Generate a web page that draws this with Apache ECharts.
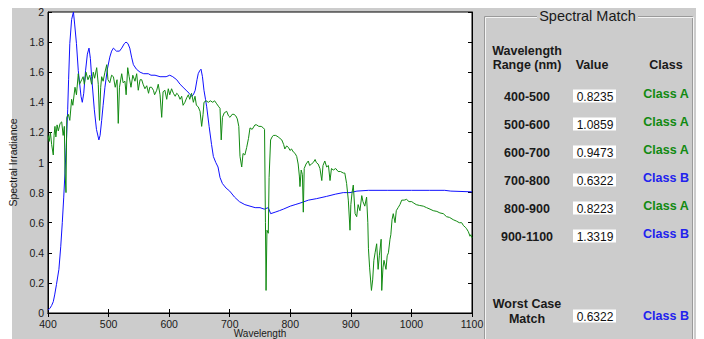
<!DOCTYPE html>
<html>
<head>
<meta charset="utf-8">
<script src="https://cdn.jsdelivr.net/npm/echarts@6/dist/echarts.min.js"></script>
<style>
  html, body { margin: 0; padding: 0; background: #fff; }
  #bg { position: absolute; left: 12px; top: 8px; width: 684px; height: 331px; background: #cccccc; }
  #main { position: absolute; left: 0; top: 0; width: 704px; height: 339px; }
</style>
</head>
<body>
<div id="bg"></div>
<div id="main"></div>
<script>
// lamp spectrum (blue)
const blueWl = [400, 403, 406, 408.7, 411, 414, 418, 421, 423.6, 426, 428, 430, 432.5, 434, 436, 439, 442, 444, 447, 450,
  454.5, 456.6, 459, 462, 465, 467.7, 470, 472, 476.5, 480, 484, 486, 488.6, 491, 494, 498, 502, 505, 508, 513,
  518, 521.7, 526, 528.8, 532, 535, 538, 541, 546, 552, 558, 565.6, 570, 576.7, 585, 595, 601, 606, 612.5, 618,
  623, 628, 633, 637, 640, 643, 646, 648, 650.5, 652.6, 655, 657.5, 660, 662, 666, 670, 673, 677, 680.7, 684,
  688, 694, 700, 708, 716, 725, 733.5, 742, 750, 757, 763.7, 767.6, 775, 782, 788.5, 800, 808, 816, 830, 843.6,
  860, 875, 887.5, 898.6, 910, 929, 960, 1000, 1030, 1055, 1065, 1100]
const blueVal = [0.02, 0.03, 0.05, 0.075, 0.12, 0.19, 0.29, 0.44, 0.6, 0.77, 0.93, 1.1, 1.35, 1.55, 1.79, 1.95, 2.0, 1.92, 1.79, 1.61,
  1.44, 1.4, 1.46, 1.61, 1.72, 1.76, 1.69, 1.57, 1.35, 1.22, 1.15, 1.18, 1.28, 1.38, 1.5, 1.62, 1.7, 1.74, 1.76, 1.74,
  1.74, 1.76, 1.79, 1.8, 1.79, 1.76, 1.7, 1.65, 1.62, 1.6, 1.59, 1.59, 1.58, 1.58, 1.57, 1.57, 1.58, 1.57, 1.55, 1.52,
  1.5, 1.48, 1.46, 1.44, 1.45, 1.48, 1.55, 1.59, 1.61, 1.62, 1.57, 1.48, 1.42, 1.37, 1.24, 1.12, 1.04, 1.0, 0.97, 0.9,
  0.86, 0.83, 0.81, 0.77, 0.74, 0.72, 0.71, 0.7, 0.7, 0.69, 0.7, 0.66, 0.67, 0.68, 0.69, 0.71, 0.72, 0.73, 0.75, 0.76,
  0.775, 0.79, 0.8, 0.8, 0.81, 0.815, 0.815, 0.815, 0.815, 0.815, 0.81, 0.805]

// reference solar spectrum (green)
const greenWl = [400, 402, 404, 406, 408.7, 410, 411.5, 413, 415, 417, 420, 422.6, 425, 427, 428, 429.7, 431, 433.5, 436, 439,
  441, 444.6, 447, 450, 452, 455.6, 458, 460, 462.7, 466, 469, 472, 474.8, 477, 480.4, 483, 485, 487, 488.6, 491,
  494, 497, 499, 502, 505, 508, 511, 514, 516, 518, 521.7, 524, 527, 529, 531.6, 534, 537, 540, 543.6, 546.4,
  549, 552, 554.7, 557, 560, 563, 566, 568, 571, 574, 576, 579.5, 582, 585, 587.7, 590, 593, 596, 598.6, 601,
  604, 607, 610, 612.5, 615, 618, 620.7, 623, 626, 629, 631.7, 634, 637, 640, 642.7, 645, 648, 651, 653.7, 656,
  657.5, 661, 664.7, 668, 672, 675, 678.5, 682, 684, 686, 688, 691, 695, 698, 700.5, 704, 707, 710, 712.5, 715,
  717, 719.8, 722, 725, 728, 731, 733.5, 737, 741.7, 744.5, 748, 752, 755.5, 757.5, 759, 760, 761.5, 763.7, 765, 767.5,
  770, 772, 776, 780, 783, 786, 789, 791, 794, 797, 799.5, 802, 805, 808, 810.6, 813, 815, 816, 818, 820,
  821.5, 823, 826, 829.7, 832, 835, 838, 841, 843, 846, 849, 852, 854, 857, 860, 863, 865.6, 868, 871, 875,
  879, 883, 887.5, 890, 893, 895.8, 898.6, 900, 902, 904, 907, 909.6, 912, 915, 918, 920, 923, 926, 928, 929,
  931, 934, 936, 938, 940, 942.6, 945, 947, 950, 951, 953, 954.7, 958, 960, 962, 964.6, 966, 968, 970, 973,
  975, 978, 981, 984, 988, 992, 996, 1000.5, 1004, 1008, 1013, 1019.6, 1025, 1030.7, 1036, 1042, 1047, 1052.6, 1058, 1063,
  1069, 1074.7, 1079, 1083, 1086, 1089, 1091, 1094, 1096.7, 1098, 1100]
const greenVal = [1.18, 1.14, 1.2, 1.12, 1.05, 1.18, 1.24, 1.17, 1.25, 1.21, 1.26, 1.27, 1.18, 1.24, 0.95, 0.8, 1.3, 1.32, 1.28, 1.42,
  1.38, 1.5, 1.45, 1.59, 1.52, 1.55, 1.57, 1.52, 1.6, 1.55, 1.58, 1.52, 1.6, 1.56, 1.63, 1.52, 1.28, 1.5, 1.57, 1.54,
  1.6, 1.65, 1.55, 1.53, 1.58, 1.57, 1.5, 1.55, 1.26, 1.5, 1.59, 1.53, 1.54, 1.45, 1.63, 1.57, 1.5, 1.58, 1.54, 1.59,
  1.48, 1.55, 1.55, 1.52, 1.49, 1.51, 1.46, 1.5, 1.5, 1.48, 1.45, 1.48, 1.52, 1.45, 1.3, 1.47, 1.48, 1.42, 1.49, 1.45,
  1.49, 1.46, 1.44, 1.46, 1.45, 1.42, 1.44, 1.38, 1.4, 1.43, 1.45, 1.42, 1.46, 1.4, 1.44, 1.38, 1.37, 1.34, 1.24, 1.32,
  1.4, 1.41, 1.4, 1.41, 1.4, 1.41, 1.39, 1.37, 1.36, 1.15, 1.3, 1.33, 1.34, 1.31, 1.3, 1.32, 1.32, 1.31, 1.29, 1.24,
  1.04, 0.97, 1.06, 1.05, 1.1, 1.16, 1.23, 1.22, 1.25, 1.25, 1.24, 1.24, 1.23, 1.22, 0.6, 0.15, 0.55, 0.53, 0.9, 1.15,
  1.17, 1.18, 1.18, 1.17, 1.16, 1.15, 1.12, 1.09, 1.11, 1.1, 1.08, 1.09, 1.07, 1.06, 1.04, 0.99, 0.91, 0.84, 0.95, 0.92,
  0.67, 0.96, 0.99, 1.01, 0.98, 0.99, 1.0, 1.02, 1.0, 0.99, 0.96, 0.88, 0.98, 1.01, 0.97, 0.98, 0.88, 0.96, 0.95, 0.96,
  0.94, 0.94, 0.93, 0.93, 0.86, 0.75, 0.55, 0.72, 0.8, 0.85, 0.66, 0.64, 0.72, 0.68, 0.78, 0.74, 0.71, 0.77, 0.6, 0.43,
  0.3, 0.15, 0.22, 0.35, 0.4, 0.46, 0.29, 0.38, 0.49, 0.15, 0.3, 0.35, 0.29, 0.38, 0.4, 0.49, 0.52, 0.62, 0.66, 0.6,
  0.68, 0.7, 0.72, 0.75, 0.75, 0.755, 0.74, 0.74, 0.73, 0.72, 0.715, 0.71, 0.7, 0.69, 0.68, 0.675, 0.665, 0.66, 0.64, 0.635,
  0.62, 0.61, 0.6, 0.6, 0.58, 0.57, 0.56, 0.54, 0.51, 0.52, 0.5]

// spectral match table
const bandRanges = ['400-500', '500-600', '600-700', '700-800', '800-900', '900-1100']
const matchValues = [0.8235, 1.0859, 0.9473, 0.6322, 0.8223, 1.3319]
const matchClasses = ['Class A', 'Class A', 'Class A', 'Class B', 'Class A', 'Class B']
const worstValue = 0.6322
const worstClass = 'Class B'

const FONT = '"Liberation Sans", Arial, sans-serif'
const classColor = { 'Class A': '#118a11', 'Class B': '#2222ee' }

function zip(xs, ys) {
  return xs.map((x, i) => [x, ys[i]])
}

function label(text, x, y, font, color) {
  return {
    type: 'text',
    x: x,
    y: y,
    z: 10,
    style: {
      text: text,
      font: font,
      fill: color || '#1a1a1a',
      align: 'center',
      verticalAlign: 'middle',
      textAlign: 'center',
      textVerticalAlign: 'middle',
    },
  }
}

function valueBox(v, y) {
  return [
    { type: 'rect', z: 5, shape: { x: 573, y: y - 7, width: 43, height: 13 }, style: { fill: '#fff' } },
    label(v.toFixed(4), 595, y, '12px ' + FONT, '#111'),
  ]
}

// right panel drawn with graphic elements
let panel = [
  // etched group box
  { type: 'rect', z: 1, shape: { x: 484.5, y: 16.5, width: 208, height: 340 }, style: { fill: 'none', stroke: '#9a9a9a', lineWidth: 1 } },
  { type: 'rect', z: 1, shape: { x: 485.5, y: 17.5, width: 208, height: 340 }, style: { fill: 'none', stroke: '#f4f4f4', lineWidth: 1 } },
  { type: 'rect', z: 2, shape: { x: 537, y: 8, width: 101, height: 16 }, style: { fill: '#cccccc' } },
  label('Spectral Match', 587.5, 16, '14.5px ' + FONT, '#1a1a1a'),
  label('Wavelength', 527, 51, 'bold 12.5px ' + FONT),
  label('Range (nm)', 527, 64.5, 'bold 12.5px ' + FONT),
  label('Value', 592, 64.5, 'bold 12.5px ' + FONT),
  label('Class', 666, 64.5, 'bold 12.5px ' + FONT),
]
bandRanges.forEach((r, i) => {
  const y = 97 + 28 * i
  panel.push(label(r, 527, y, 'bold 12.5px ' + FONT))
  panel = panel.concat(valueBox(matchValues[i], y - 0.5))
  panel.push(label(matchClasses[i], 666, y - 3, 'bold 12.5px ' + FONT, classColor[matchClasses[i]]))
})
panel.push(label('Worst Case', 527, 304, 'bold 12.5px ' + FONT))
panel.push(label('Match', 527, 318.5, 'bold 12.5px ' + FONT))
panel = panel.concat(valueBox(worstValue, 316.5))
panel.push(label(worstClass, 666, 315.5, 'bold 12.5px ' + FONT, classColor[worstClass]))

const myChart = echarts.init(document.getElementById('main'), null, { renderer: 'svg' })

const tickLabel = { fontSize: 10.5, fontFamily: FONT, color: '#1a1a1a' }
const option = {
  backgroundColor: 'transparent',
  animation: false,
  grid: {
    left: 48,
    top: 12,
    right: 232,
    bottom: 26,
    outerBoundsMode: 'none',
    containLabel: false,
    show: true,
    backgroundColor: '#fff',
    borderColor: '#000',
    borderWidth: 1,
  },
  xAxis: [
    {
      type: 'value',
      min: 400,
      max: 1100,
      interval: 100,
      name: 'Wavelength',
      nameLocation: 'middle',
      nameGap: 15,
      nameMoveOverlap: false,
      nameTextStyle: { fontSize: 10, lineHeight: 11, fontFamily: FONT, color: '#1a1a1a' },
      axisLine: { show: true, lineStyle: { color: '#000' } },
      axisTick: { show: true, inside: true, length: 4, lineStyle: { color: '#000' } },
      axisLabel: Object.assign({ margin: 5, formatter: (v) => String(v) }, tickLabel),
      splitLine: { show: false },
    },
    {
      type: 'value',
      position: 'top',
      min: 400,
      max: 1100,
      interval: 100,
      axisLine: { show: true, lineStyle: { color: '#000' } },
      axisTick: { show: true, inside: true, length: 4, lineStyle: { color: '#000' } },
      axisLabel: { show: false },
      splitLine: { show: false },
    },
  ],
  yAxis: [
    {
      type: 'value',
      min: 0,
      max: 2,
      interval: 0.2,
      name: 'Spectral Irradiance',
      nameLocation: 'middle',
      nameGap: 30,
      nameMoveOverlap: false,
      nameTextStyle: { fontSize: 10.5, fontFamily: FONT, color: '#1a1a1a' },
      axisLine: { show: true, lineStyle: { color: '#000' } },
      axisTick: { show: true, inside: true, length: 4, lineStyle: { color: '#000' } },
      axisLabel: Object.assign({ margin: 4 }, tickLabel),
      splitLine: { show: false },
    },
    {
      type: 'value',
      position: 'right',
      min: 0,
      max: 2,
      interval: 0.2,
      axisLine: { show: true, lineStyle: { color: '#000' } },
      axisTick: { show: true, inside: true, length: 4, lineStyle: { color: '#000' } },
      axisLabel: { show: false },
      splitLine: { show: false },
    },
  ],
  series: [
    {
      name: 'Lamp',
      type: 'line',
      data: zip(blueWl, blueVal),
      showSymbol: false,
      lineStyle: { color: '#1010ff', width: 1 },
      z: 2,
    },
    {
      name: 'Reference',
      type: 'line',
      data: zip(greenWl, greenVal),
      showSymbol: false,
      lineStyle: { color: '#128a12', width: 1 },
      z: 3,
    },
  ],
  graphic: panel,
}

myChart.setOption(option)
</script>
</body>
</html>
